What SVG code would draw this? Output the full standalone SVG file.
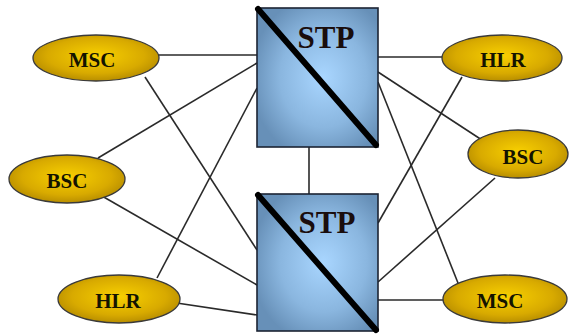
<svg xmlns="http://www.w3.org/2000/svg" width="569" height="335" viewBox="0 0 569 335">
<defs>
<radialGradient id="gBox" cx="0.55" cy="0.5" r="0.6">
<stop offset="0" stop-color="#a9d6ff"/>
<stop offset="0.6" stop-color="#8ab6df"/>
<stop offset="1" stop-color="#6790b8"/>
</radialGradient>
<radialGradient id="gEll" cx="0.5" cy="0.45" r="0.55">
<stop offset="0" stop-color="#f8d000"/>
<stop offset="0.7" stop-color="#d8aa00"/>
<stop offset="1" stop-color="#b88e00"/>
</radialGradient>
<style>
.ln{stroke:#2a2a2a;stroke-width:1.6;fill:none}
.box{fill:url(#gBox);stroke:#1c2433;stroke-width:1.6}
.diag{stroke:#000;stroke-width:6;stroke-linecap:round}
.ell{fill:url(#gEll);stroke:#3a3a3a;stroke-width:1.3}
.lbl{font-family:"Liberation Serif",serif;font-weight:bold;font-size:21px;fill:#141400;text-anchor:middle}
.stp{font-family:"Liberation Serif",serif;font-weight:bold;font-size:31px;fill:#1a0d0d;text-anchor:middle}
</style>
</defs>
<g id="connectors">
<line class="ln" x1="150" y1="55" x2="257" y2="55"/>
<line class="ln" x1="145" y1="77" x2="257" y2="250"/>
<line class="ln" x1="98" y1="158" x2="257" y2="63"/>
<line class="ln" x1="95" y1="192" x2="257" y2="285"/>
<line class="ln" x1="157" y1="278" x2="257" y2="88"/>
<line class="ln" x1="170" y1="302" x2="257" y2="315"/>
<line class="ln" x1="378" y1="57" x2="450" y2="57"/>
<line class="ln" x1="462" y1="77" x2="378" y2="223"/>
<line class="ln" x1="378" y1="72" x2="485" y2="142"/>
<line class="ln" x1="495" y1="178" x2="378" y2="282"/>
<line class="ln" x1="378" y1="82" x2="460" y2="288"/>
<line class="ln" x1="378" y1="300" x2="450" y2="300"/>
<line class="ln" x1="309" y1="147" x2="309" y2="194"/>
</g>
<g id="stp-top">
<rect class="box" x="257" y="8" width="121" height="139"/>
<line class="diag" x1="258" y1="9" x2="376" y2="145"/>
<text class="stp" x="326" y="48">STP</text>
</g>
<g id="stp-bottom">
<rect class="box" x="257" y="194" width="121" height="137"/>
<line class="diag" x1="258" y1="195" x2="376" y2="330"/>
<text class="stp" x="327" y="233">STP</text>
</g>
<g id="msc-left">
<ellipse class="ell" cx="96" cy="58" rx="63" ry="23"/>
<text class="lbl" x="92" y="67">MSC</text>
</g>
<g id="bsc-left">
<ellipse class="ell" cx="67" cy="179" rx="58" ry="24"/>
<text class="lbl" x="67" y="188">BSC</text>
</g>
<g id="hlr-left">
<ellipse class="ell" cx="119" cy="299" rx="61" ry="24"/>
<text class="lbl" x="118" y="308">HLR</text>
</g>
<g id="hlr-right">
<ellipse class="ell" cx="502" cy="58" rx="60" ry="23"/>
<text class="lbl" x="503" y="67">HLR</text>
</g>
<g id="bsc-right">
<ellipse class="ell" cx="518" cy="154" rx="50" ry="24"/>
<text class="lbl" x="523" y="164">BSC</text>
</g>
<g id="msc-right">
<ellipse class="ell" cx="505" cy="299" rx="62" ry="24"/>
<text class="lbl" x="500" y="308">MSC</text>
</g>
</svg>
